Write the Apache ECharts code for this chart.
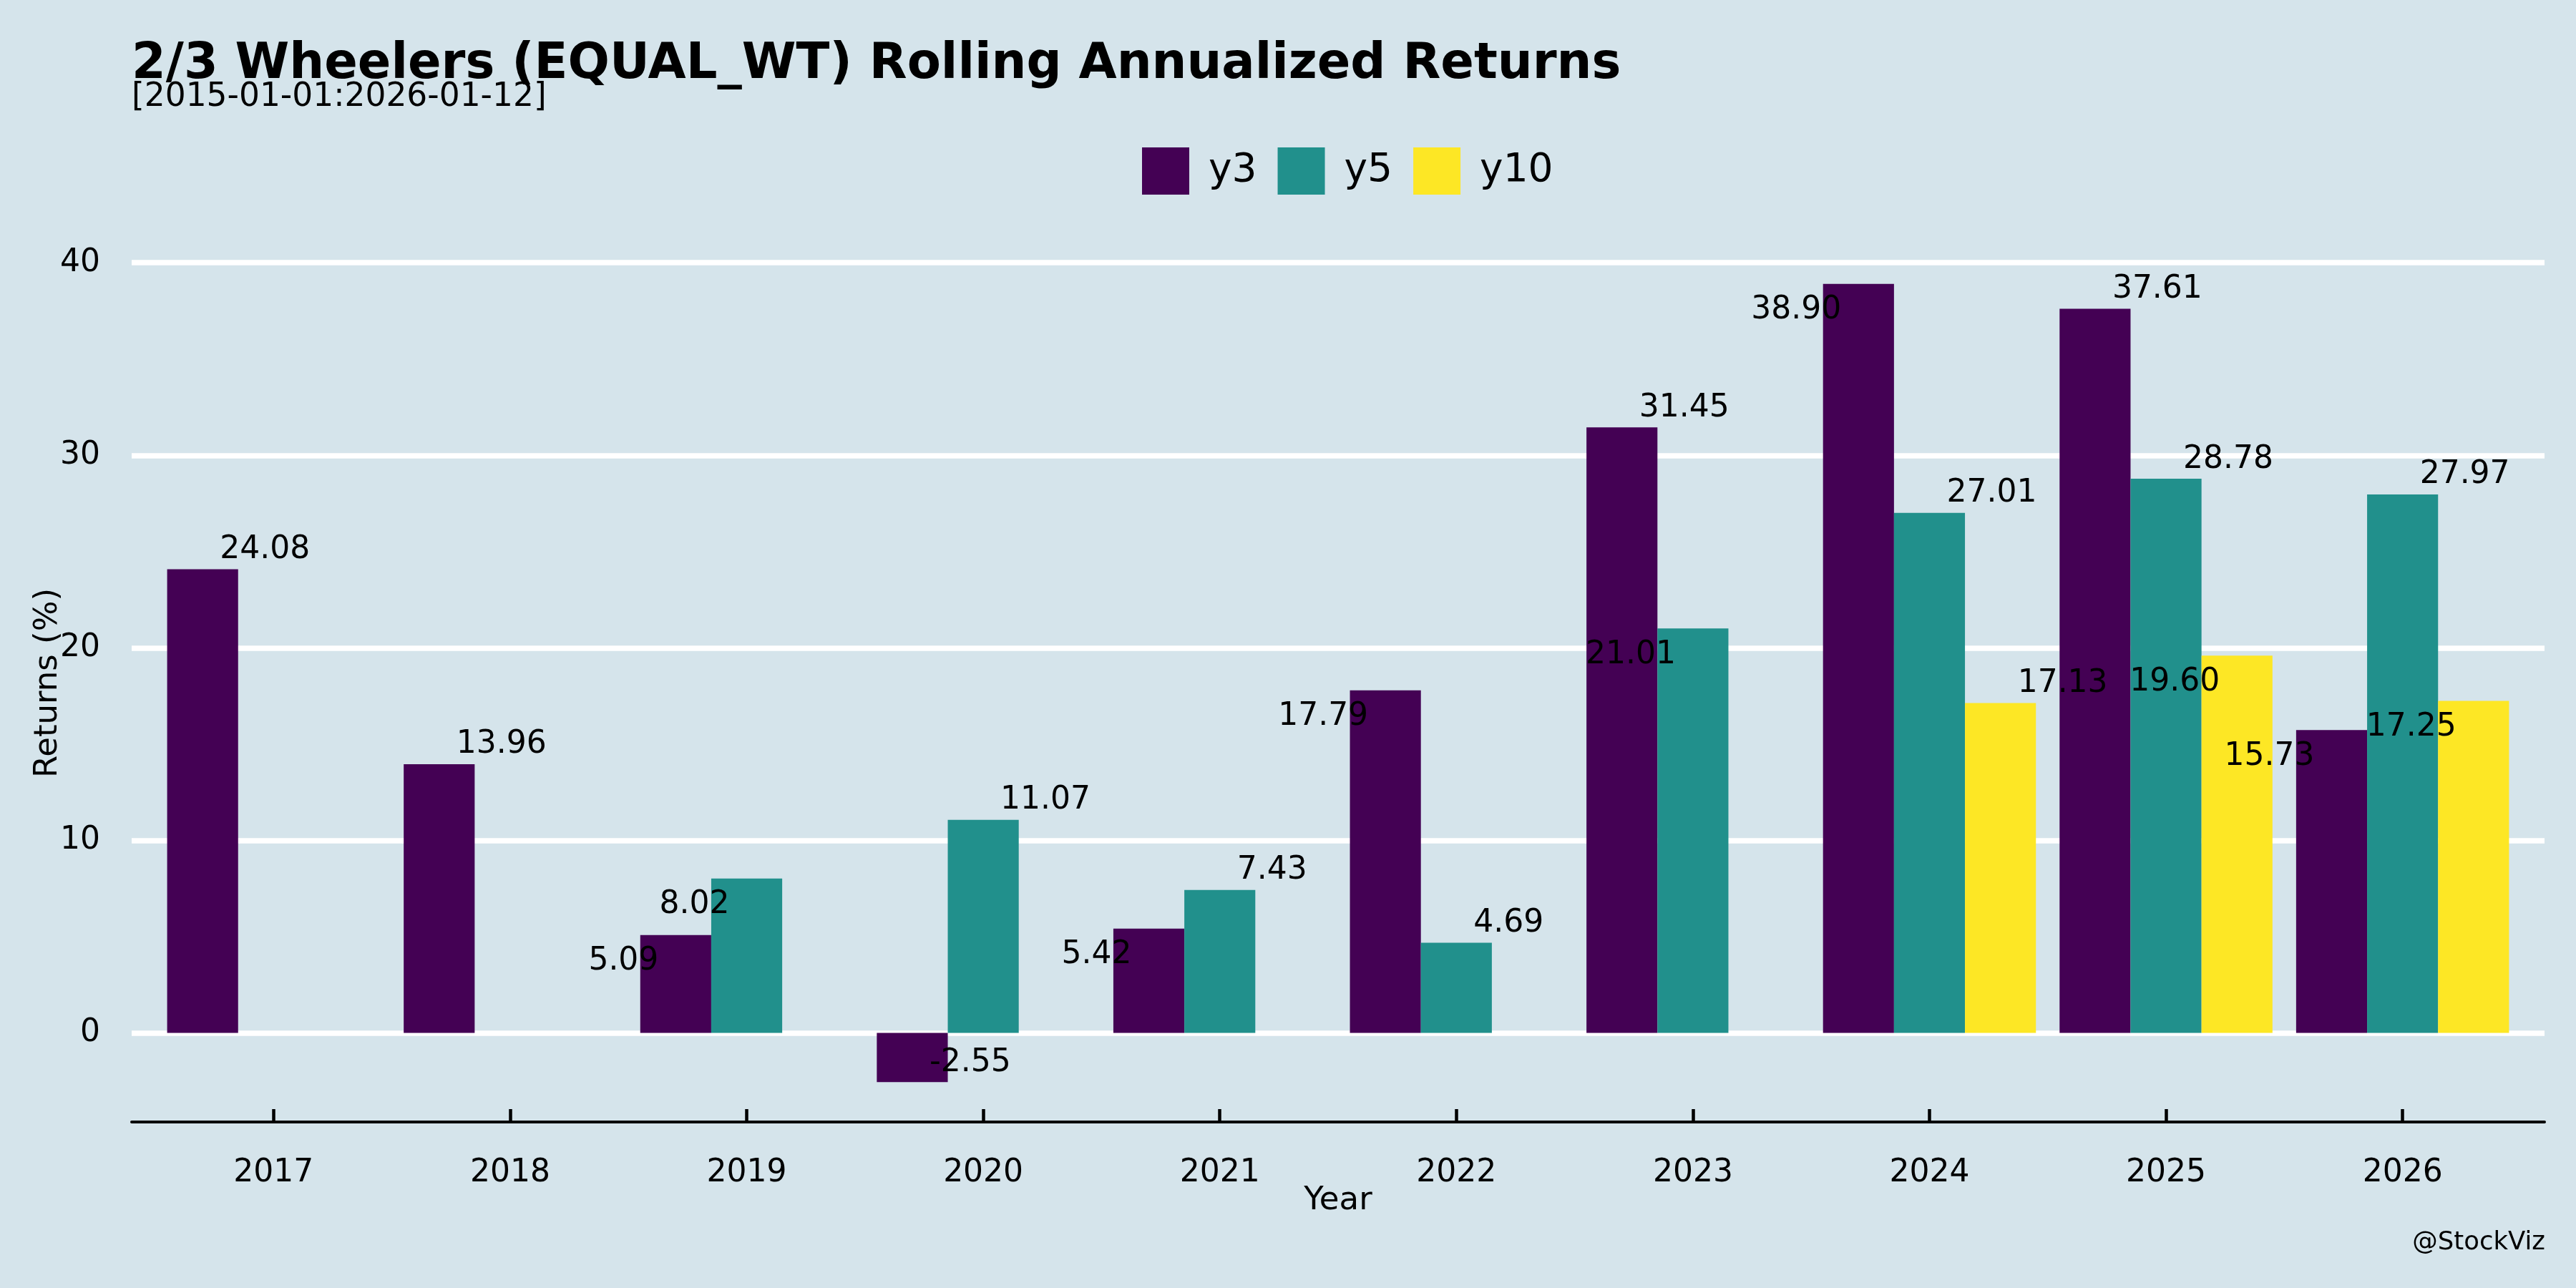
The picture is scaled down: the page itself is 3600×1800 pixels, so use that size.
<!DOCTYPE html>
<html>
<head>
<meta charset="utf-8">
<script src="https://cdn.jsdelivr.net/npm/echarts@6/dist/echarts.min.js"></script>
<style>
  html, body { margin: 0; padding: 0; background: #d5e4eb; }
  #chart { width: 3600px; height: 1800px; }
</style>
</head>
<body>
<div id="chart"></div>
<script>
// ---- data ----
const years = ['2017', '2018', '2019', '2020', '2021', '2022', '2023', '2024', '2025', '2026'];
const y3  = [24.08, 13.96, 5.09, -2.55, 5.42, 17.79, 31.45, 38.90, 37.61, 15.73];
const y5  = [null, null, 8.02, 11.07, 7.43, 4.69, 21.01, 27.01, 28.78, 27.97];
const y10 = [null, null, null, null, null, null, null, 17.13, 19.60, 17.25];
const yTicks = [0, 10, 20, 30, 40];
const seriesNames = ['y3', 'y5', 'y10'];

// label placement (ur = up-right of bar end, dl = down-left of bar end)
const labelSide = {
  y3:  ['ur', 'ur', 'dl', 'ur', 'dl', 'dl', 'ur', 'dl', 'ur', 'dl'],
  y5:  [null, null, 'dl', 'ur', 'ur', 'ur', 'dl', 'ur', 'ur', 'ur'],
  y10: [null, null, null, null, null, null, null, 'ur', 'dl', 'dl']
};

const colors = { y3: '#440154', y5: '#21908C', y10: '#FDE725' };
const FONT = 'DejaVu Sans';

// panel geometry (ggplot style discrete expansion 0.6 on each side)
const W = 3600, H = 1800;
const panelLeft = 184, panelRight = 44, panelTop = 341, panelBottom = 232;
const units = years.length - 1 + 1.2;
const unitPx = (W - panelLeft - panelRight) / units;
const inset = 0.1 * unitPx;

const allVals = [].concat(y3, y5, y10).filter(v => v != null);
const lo = Math.min(...allVals), hi = Math.max(...allVals);
const pad = 0.05 * (hi - lo);
const yMin = lo - pad, yMax = hi + pad;

function buildData(vals, sides) {
  return vals.map((v, i) => {
    if (v == null) return null;
    const side = sides[i];
    const anchorY = v < 0 ? '100%' : '0%';
    const lab = side === 'ur'
      ? { position: ['50%', anchorY], align: 'left', verticalAlign: 'middle', offset: [24, -27] }
      : { position: ['50%', anchorY], align: 'right', verticalAlign: 'middle', offset: [-24, 37] };
    return { value: v, label: lab };
  });
}

const dataMap = { y3: y3, y5: y5, y10: y10 };
const series = seriesNames.map(name => ({
  name: name,
  type: 'bar',
  xAxisIndex: 0,
  yAxisIndex: 0,
  barWidth: 0.3 * unitPx,
  barGap: '0%',
  itemStyle: { color: colors[name] },
  label: {
    show: true,
    fontFamily: FONT,
    fontSize: 44,
    color: '#000',
    formatter: p => p.value.toFixed(2)
  },
  data: buildData(dataMap[name], labelSide[name])
}));

const chart = echarts.init(document.getElementById('chart'), null, { renderer: 'canvas' });
chart.setOption({
  backgroundColor: '#d5e4eb',
  animation: false,
  title: [
    {
      text: '2/3 Wheelers (EQUAL_WT) Rolling Annualized Returns',
      left: panelLeft, top: 57, padding: 0,
      textStyle: { fontFamily: FONT, fontSize: 68.7, fontWeight: 'bold', color: '#000' }
    },
    {
      text: '[2015-01-01:2026-01-12]',
      left: panelLeft, top: 113, padding: 0,
      textStyle: { fontFamily: FONT, fontSize: 45.5, fontWeight: 'normal', color: '#000' }
    },
    {
      text: '@StockViz',
      right: 43, top: 1719, padding: 0,
      textStyle: { fontFamily: FONT, fontSize: 35.5, fontWeight: 'normal', color: '#000' }
    }
  ],
  legend: {
    data: seriesNames,
    left: 1596, top: 206, padding: 0,
    icon: 'rect',
    itemWidth: 66, itemHeight: 66, itemGap: 29,
    textStyle: { fontFamily: FONT, fontSize: 55, color: '#000', padding: [0, 0, 0, 22] }
  },
  grid: [
    { left: panelLeft + inset, right: panelRight + inset, top: panelTop, bottom: panelBottom, outerBoundsMode: 'none', containLabel: false },
    { left: panelLeft, right: panelRight, top: panelTop, bottom: panelBottom, outerBoundsMode: 'none', containLabel: false }
  ],
  xAxis: [
    {
      type: 'category', gridIndex: 0, data: years, position: 'bottom',
      axisLine: { show: false, onZero: false },
      axisTick: { show: true, inside: true, length: 18, alignWithLabel: true, lineStyle: { color: '#000', width: 4.5 } },
      axisLabel: { fontFamily: FONT, fontSize: 44, color: '#000', margin: 50 },
      splitLine: { show: false },
      name: 'Year', nameLocation: 'middle', nameGap: 88, nameMoveOverlap: false,
      nameTextStyle: { fontFamily: FONT, fontSize: 45, color: '#000' }
    },
    {
      type: 'value', gridIndex: 1, min: 0, max: 1, position: 'bottom',
      axisLine: { show: true, onZero: false, lineStyle: { color: '#000', width: 4 } },
      axisTick: { show: false }, axisLabel: { show: false }, splitLine: { show: false }
    }
  ],
  yAxis: [
    {
      type: 'value', gridIndex: 0, min: yMin, max: yMax, show: false,
      splitLine: { show: false }
    },
    {
      type: 'value', gridIndex: 1, min: yMin, max: yMax, splitNumber: 5,
      axisLine: { show: false }, axisTick: { show: false },
      axisLabel: {
        fontFamily: FONT, fontSize: 44, color: '#000', margin: 44,
        showMinLabel: false, showMaxLabel: false,
        formatter: v => (yTicks.indexOf(Math.round(v * 1000) / 1000) >= 0 ? String(Math.round(v)) : '')
      },
      splitLine: { show: true, showMinLine: false, showMaxLine: false, lineStyle: { color: '#ffffff', width: 7.5 } },
      name: 'Returns (%)', nameLocation: 'middle', nameRotate: 90, nameGap: 94, nameMoveOverlap: false,
      nameTextStyle: { fontFamily: FONT, fontSize: 45, color: '#000' }
    }
  ],
  series: series
});
</script>
</body>
</html>
